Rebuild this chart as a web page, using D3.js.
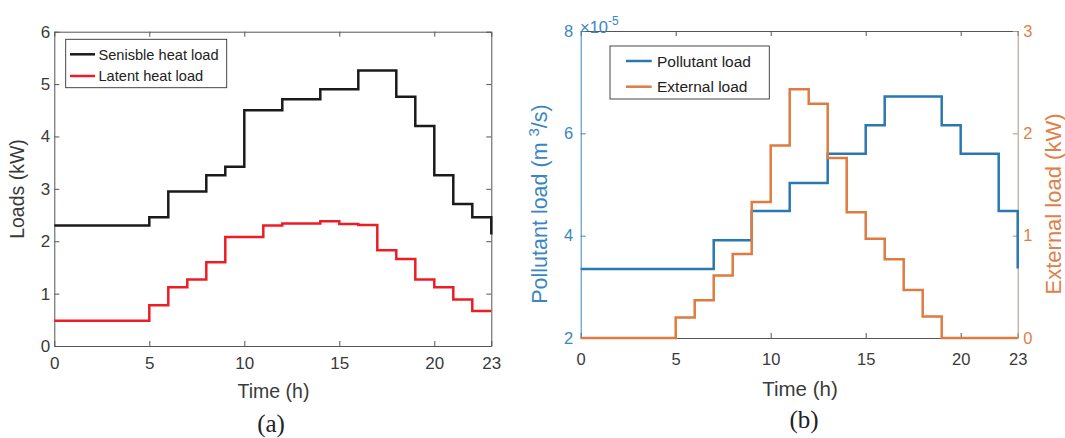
<!DOCTYPE html>
<html>
<head>
<meta charset="utf-8">
<script src="https://cdn.jsdelivr.net/npm/d3@7"></script>
<style>
  html, body { margin: 0; padding: 0; background: #fff; }
  svg { display: block; font-family: "Liberation Sans", Arial, Helvetica, sans-serif; }
</style>
</head>
<body>
<svg id="chart" width="1065" height="438"></svg>
<script>
// ---------------- data ----------------
const hours = [0,1,2,3,4,5,6,7,8,9,10,11,12,13,14,15,16,17,18,19,20,21,22,23];
const xTicks = [0,5,10,15,20,23];

// (a) loads in kW
const sensibleLoad = [2.30,2.30,2.30,2.30,2.30,2.46,2.95,2.95,3.26,3.42,4.50,4.50,4.71,4.71,4.90,4.90,5.26,5.26,4.76,4.20,3.26,2.71,2.46,2.13];
const latentLoad   = [0.48,0.48,0.48,0.48,0.48,0.78,1.12,1.27,1.60,2.08,2.08,2.30,2.34,2.34,2.38,2.33,2.31,1.83,1.66,1.27,1.12,0.89,0.67,0.67];
const aYTicks = [0,1,2,3,4,5,6];

// (b) pollutant load (x1e-5 m^3/s) and external load (kW)
const pollutantLoad = [3.35,3.35,3.35,3.35,3.35,3.35,3.35,3.91,3.91,4.48,4.48,5.03,5.03,5.60,5.60,6.16,6.72,6.72,6.72,6.16,5.60,5.60,4.48,3.36];
const externalLoad  = [0,0,0,0,0,0.20,0.37,0.61,0.82,1.33,1.88,2.43,2.29,1.76,1.23,0.97,0.77,0.47,0.21,0,0,0,0,0];
const bLeftTicks = [2,4,6,8];
const bRightTicks = [0,1,2,3];

const legendA = ["Senisble heat load", "Latent heat load"];
const legendB = ["Pollutant load", "External load"];

// ---------------- styles ----------------
const AX = "#555555", TXT = "#3a3a3a";
const BLACK = "#1a1a1a", RED = "#ee1d25";
const BLUE = "#2a78b2", ORANGE = "#de7b40";
const BLUE_AX = "#3a86c0", ORANGE_TXT = "#e0804a", TAN = "#ad9483";
const SANS = "'Liberation Sans', Arial, Helvetica, sans-serif";
const SERIF = "'Liberation Serif', 'DejaVu Serif', serif";

const svg = d3.select("#chart");

function stepLine(g, xs, ys, data, color) {
  const line = d3.line().x((d,i) => xs(hours[i])).y(d => ys(d)).curve(d3.curveStepAfter);
  g.append("path").datum(data).attr("d", line)
    .attr("fill", "none").attr("stroke", color).attr("stroke-width", 2.5);
}

function styleAxis(sel, lineColor, textColor, fontSize) {
  sel.select(".domain").attr("stroke", lineColor).attr("stroke-width", 1);
  sel.selectAll(".tick line").attr("stroke", lineColor).attr("stroke-width", 1);
  sel.selectAll(".tick text").attr("fill", textColor)
     .style("font-size", fontSize + "px").style("font-family", SANS);
}

// ================= Chart (a) =================
{
  const x = d3.scaleLinear().domain([0,23]).range([54.3, 491.3]);
  const y = d3.scaleLinear().domain([0,6]).range([346, 31.7]);
  const g = svg.append("g");

  const gb = g.append("g").attr("transform", `translate(0,${y(0)})`)
    .call(d3.axisBottom(x).tickValues(xTicks).tickSizeInner(-5).tickSizeOuter(0).tickPadding(11).tickFormat(d3.format("d")));
  styleAxis(gb, AX, TXT, 17);
  const gt = g.append("g").attr("transform", `translate(0,${y(6)})`)
    .call(d3.axisTop(x).tickValues(xTicks).tickSizeInner(-5).tickSizeOuter(0).tickFormat(""));
  styleAxis(gt, AX, TXT, 17);
  const gl = g.append("g").attr("transform", `translate(${x(0)},0)`)
    .call(d3.axisLeft(y).tickValues(aYTicks).tickSizeInner(-5).tickSizeOuter(0).tickPadding(4).tickFormat(d3.format("d")));
  styleAxis(gl, AX, TXT, 17);
  const gr = g.append("g").attr("transform", `translate(${x(23)},0)`)
    .call(d3.axisRight(y).tickValues(aYTicks).tickSizeInner(-5).tickSizeOuter(0).tickFormat(""));
  styleAxis(gr, AX, TXT, 17);

  stepLine(g, x, y, sensibleLoad, BLACK);
  stepLine(g, x, y, latentLoad, RED);

  g.append("text").attr("x", 273.5).attr("y", 398).attr("text-anchor", "middle")
    .style("font-size", "19.5px").attr("fill", TXT).text("Time (h)");
  g.append("text").attr("transform", `translate(24,189) rotate(-90)`).attr("text-anchor", "middle")
    .style("font-size", "19.5px").attr("fill", TXT).text("Loads (kW)");
  g.append("text").attr("x", 271).attr("y", 432).attr("text-anchor", "middle")
    .style("font-family", SERIF).style("font-size", "25px").attr("fill", "#222").text("(a)");

  const lg = g.append("g");
  lg.append("rect").attr("x", 65.7).attr("y", 39.3).attr("width", 161).attr("height", 48.4)
    .attr("fill", "#fff").attr("stroke", "#333").attr("stroke-width", 0.9);
  const colorsA = [BLACK, RED];
  legendA.forEach((t, i) => {
    const yy = 54.3 + i * 21.7;
    lg.append("line").attr("x1", 70).attr("x2", 95).attr("y1", yy).attr("y2", yy)
      .attr("stroke", colorsA[i]).attr("stroke-width", 2.5);
    lg.append("text").attr("x", 98.5).attr("y", yy + 5.2).style("font-size", "14.6px").attr("fill", "#222").text(t);
  });
}

// ================= Chart (b) =================
{
  const x = d3.scaleLinear().domain([0,23]).range([580.7, 1017.7]);
  const yL = d3.scaleLinear().domain([2,8]).range([338, 31]);
  const yR = d3.scaleLinear().domain([0,3]).range([338, 31]);
  const g = svg.append("g");

  const gb = g.append("g").attr("transform", `translate(0,338)`)
    .call(d3.axisBottom(x).tickValues(xTicks).tickSizeInner(-5).tickSizeOuter(0).tickPadding(15).tickFormat(d3.format("d")));
  styleAxis(gb, AX, TXT, 16.5);
  const gt = g.append("g").attr("transform", `translate(0,31)`)
    .call(d3.axisTop(x).tickValues(xTicks).tickSizeInner(-5).tickSizeOuter(0).tickFormat(""));
  styleAxis(gt, AX, TXT, 16.5);

  const gl = g.append("g").attr("transform", `translate(${x(0)},0)`)
    .call(d3.axisLeft(yL).tickValues(bLeftTicks).tickSizeInner(-5).tickSizeOuter(0).tickPadding(7.5).tickFormat(d3.format("d")));
  styleAxis(gl, BLUE_AX, BLUE_AX, 16.5);
  const gr = g.append("g").attr("transform", `translate(${x(23)},0)`)
    .call(d3.axisRight(yR).tickValues(bRightTicks).tickSizeInner(-5).tickSizeOuter(0).tickPadding(5.5).tickFormat(d3.format("d")));
  styleAxis(gr, TAN, ORANGE_TXT, 16.5);

  stepLine(g, x, yL, pollutantLoad, BLUE);
  stepLine(g, x, yR, externalLoad, ORANGE);

  const ex = g.append("text").attr("x", 580).attr("y", 33).style("font-size", "16.5px").attr("fill", BLUE_AX);
  ex.append("tspan").text("×10");
  ex.append("tspan").attr("dy", -8).style("font-size", "12px").text("-5");

  g.append("text").attr("x", 800).attr("y", 396).attr("text-anchor", "middle")
    .style("font-size", "20.5px").attr("fill", TXT).text("Time (h)");
  const pl = g.append("text").attr("transform", `translate(547,204) rotate(-90)`).attr("text-anchor", "middle")
    .style("font-size", "21.5px").attr("fill", BLUE_AX);
  pl.append("tspan").text("Pollutant load (m ");
  pl.append("tspan").attr("dy", -8).style("font-size", "15px").text("3");
  pl.append("tspan").attr("dy", 8).text("/s)");
  g.append("text").attr("transform", `translate(1061,204) rotate(-90)`).attr("text-anchor", "middle")
    .style("font-size", "22px").attr("fill", ORANGE_TXT).text("External load (kW)");

  g.append("text").attr("x", 804).attr("y", 428).attr("text-anchor", "middle")
    .style("font-family", SERIF).style("font-size", "25px").attr("fill", "#222").text("(b)");

  const lg = g.append("g");
  lg.append("rect").attr("x", 610).attr("y", 46).attr("width", 159.3).attr("height", 53)
    .attr("fill", "#fff").attr("stroke", "#333").attr("stroke-width", 0.9);
  const colorsB = [BLUE, ORANGE];
  legendB.forEach((t, i) => {
    const yy = 61 + i * 25.7;
    lg.append("line").attr("x1", 626).attr("x2", 651.7).attr("y1", yy).attr("y2", yy)
      .attr("stroke", colorsB[i]).attr("stroke-width", 2.5);
    lg.append("text").attr("x", 657).attr("y", yy + 5.5).style("font-size", "15.5px").attr("fill", "#222").text(t);
  });
}
</script>
</body>
</html>
